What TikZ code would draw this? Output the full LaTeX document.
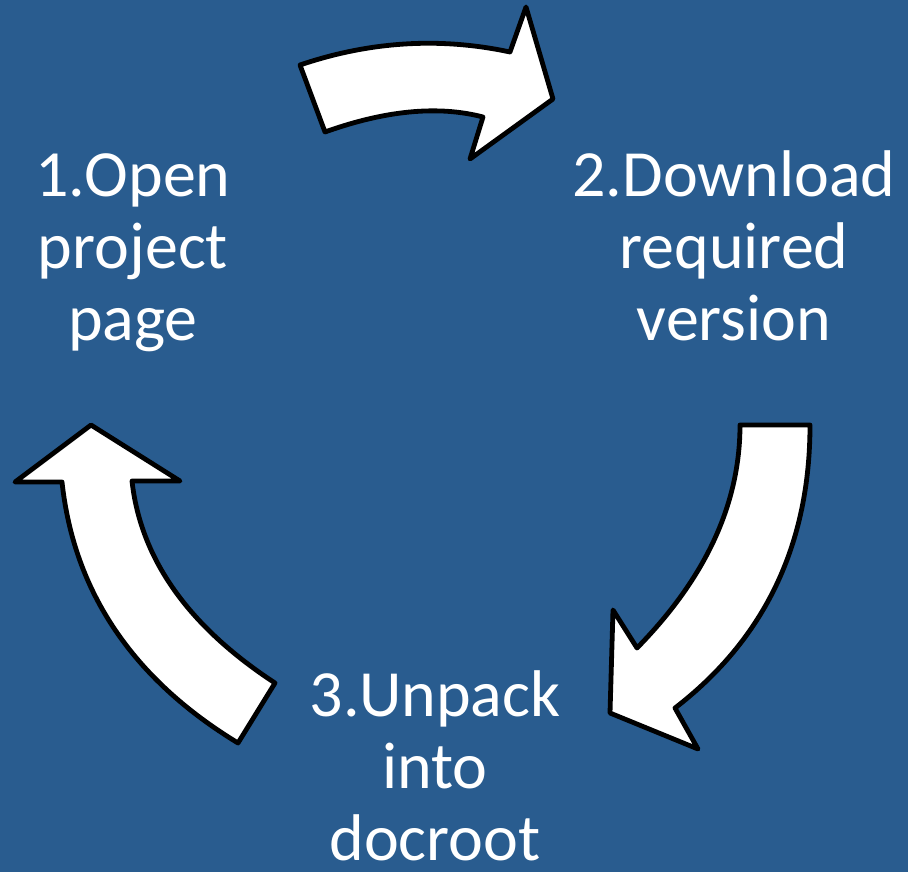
\documentclass[tikz,border=0pt]{standalone}
\usepackage{fontspec}
\setmainfont{Carlito}
\definecolor{bgblue}{RGB}{41,92,143}
\begin{document}
\begin{tikzpicture}[x=1pt,y=-1pt,
  bigarrow/.style={draw=black,fill=white,line width=4.8pt,line join=round},
  steptext/.style={text=white,align=center,inner sep=0pt,anchor=base,
    font=\fontsize{66}{72}\selectfont}]
\fill[bgblue] (0,0) rectangle (908,872);
\useasboundingbox (0,0) rectangle (908,872);
% top arrow (1 -> 2)
\draw[bigarrow] (300,65) .. controls (370,41.3) and (440,37) .. (510,52)
  -- (526,7) -- (553,99) -- (470,159) -- (483,117)
  .. controls (438.3,105.3) and (385.7,110.3) .. (325,132) -- cycle;
% right arrow (2 -> 3)
\draw[bigarrow] (740,425) -- (810,425)
  .. controls (810,544) and (765,638.7) .. (675,708)
  -- (698,749) -- (610,713) -- (613,610) -- (637,648)
  .. controls (705.7,578) and (740,503.7) .. (740,425) -- cycle;
% left arrow (3 -> 1)
\draw[bigarrow] (275,683) -- (238,743)
  .. controls (132.7,679) and (74,592) .. (62,482)
  -- (15,482) -- (91,425) -- (180,481) -- (132,481)
  .. controls (140.7,559) and (188.3,626.3) .. (275,683) -- cycle;
\node[steptext] (s1) at (133,340) {1.Open\\project\\page};
\node[steptext] (s2) at (734,340) {2.Download\\required\\version};
\node[steptext] (s3) at (435,860) {3.Unpack\\into\\docroot};
\end{tikzpicture}
\end{document}
